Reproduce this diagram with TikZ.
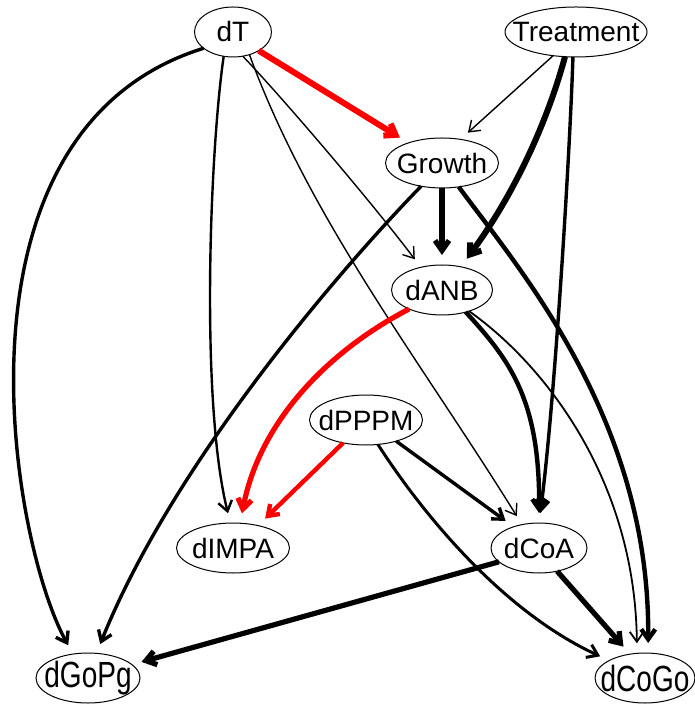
\documentclass[tikz,border=0pt]{standalone}
\usepackage{fontspec}
\setmainfont{Liberation Sans}
\usepackage{graphicx}
\usepackage{tikz}
\usetikzlibrary{arrows.meta}
\usetikzlibrary{shapes.geometric}
\newcommand{\vtext}[1]{\makebox[0pt]{#1}}
\newcommand{\vtall}[1]{\makebox[0pt]{\scalebox{1}[1.3]{#1}}}

\begin{document}
\begin{tikzpicture}[
    x=0.5pt, y=-0.5pt,
    every path/.style={-{Straight Barb[length=5pt, width=7pt]}},
    varnode/.style={ellipse, draw=black, line width=0.5pt, inner sep=0, 
        outer sep=0, minimum height=25pt, font=\fontsize{14}{16}\selectfont},
    neg/.style={draw=red},
    weak/.style={line width=0.7pt},
    light/.style={line width=0.9pt},
    fair/.style={line width=1.2pt},
    firm/.style={line width=1.5pt},
    medium/.style={line width=1.7pt},
    strong/.style={line width=2.2pt},
    heavy/.style={line width=2.6pt},
    heaviest/.style={line width=3pt},
    ]

    \useasboundingbox (0,0) rectangle (694,704);

    \node (dT) [varnode, minimum width=38.5pt] at (233,32) {\vtext{dT}};
    \node (Treatment) [varnode, minimum width=71pt] at (576,32) 
        {\vtext{Treatment}};
    \node (Growth) [varnode, minimum width=56.5pt] at (442,163) 
        {\vtext{Growth}};
    \node (dANB) [varnode, minimum width=50.5pt] at (442,290) {\vtext{dANB}};
    \node (dPPPM) [varnode, minimum width=56.5pt] at (366,420) 
        {\vtext{dPPPM}};
    \node (dIMPA) [varnode, minimum width=56.5pt] at (233,548) 
        {\vtext{dIMPA}};
    \node (dCoA) [varnode, minimum width=48pt] at (539,548) {\vtext{dCoA}};
    \node (dGoPg) [varnode, minimum width=52pt] at (88,678) {\vtall{dGoPg}};
    \node (dCoGo) [varnode, minimum width=50pt] at (645,678) 
        {\vtall{dCoGo}};

    \begin{scope}[shorten >=5pt]
        \draw [heaviest, neg] (dT.324) -- (Growth.149);
        \draw [medium] (dT.209) .. controls (-60,130) and (10,540) .. 
            (dGoPg.122);
        \draw [fair] (dT.249) .. controls (210,150) and (200,400) .. 
            (dIMPA.96);
        \draw [weak] (dT.292) .. controls (280,95) and (370,200) .. 
            (dANB.133);
        \draw [weak] (dT.306) .. controls (310,220) and (420,360) .. 
            (dCoA.126);

        \draw [weak] (Treatment.226) -- (Growth.52);
        \draw [heaviest] (Treatment.246) .. controls (545,130) and (510,200) 
            .. (dANB.51);
        \draw [medium] (Treatment.263) .. controls (570,150) and (555,400) .. 
            (dCoA.90);

        \draw [heavy] (Growth) -- (dANB);
        \draw [medium] (Growth.228) .. controls (330,280) and (170,470) .. 
            (dGoPg.71);
        \draw [strong] (Growth.305) .. controls (520,270) and (650,420) .. 
            (dCoGo.83);

        \draw [heavy, neg] (dANB.210) .. controls (330,350) and 
            (260,420) .. (dIMPA.74);
        \draw [strong] (dANB.317) .. controls (510,360) and (540,400) .. 
            (dCoA.90);
        \draw [light] (dANB.322) .. controls (545,365) and (635,480) .. 
            (dCoGo.108);

        \draw [strong, neg] (dPPPM.225) -- (dIMPA.42);
        \draw [medium] (dPPPM.325) -- (dCoA.140);
        \draw [firm] (dPPPM.296) .. controls (420,510) and (500,610) .. 
            (dCoGo.154);

        \draw [heavy] (dCoA.199) -- (dGoPg.17);
        \draw [heavy] (dCoA.308) -- (dCoGo.122);
    \end{scope}
\end{tikzpicture}
\end{document}
